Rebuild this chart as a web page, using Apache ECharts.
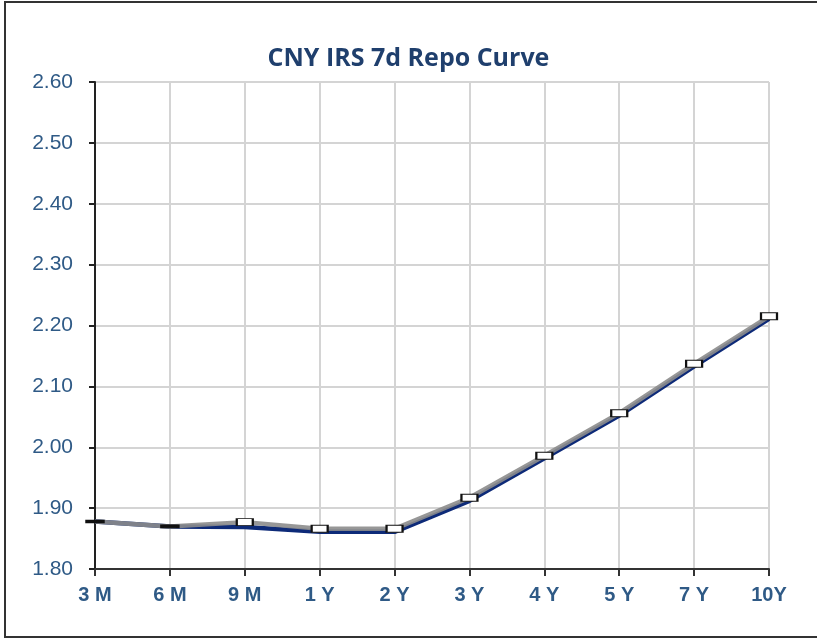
<!DOCTYPE html>
<html>
<head>
<meta charset="utf-8">
<script src="https://cdn.jsdelivr.net/npm/echarts@6/dist/echarts.min.js"></script>
<style>
  html, body { margin: 0; padding: 0; background: #fff; }
  #frame { position: absolute; left: 4px; top: 1px; width: 830px; height: 633px; border: 2px solid #333; border-right: none; }
  #main { position: absolute; left: 0; top: 0; width: 817px; height: 643px; }
</style>
</head>
<body>
<div id="frame"></div>
<div id="main"></div>
<script>
// 曲线数据
var tenors = ['3 M', '6 M', '9 M', '1 Y', '2 Y', '3 Y', '4 Y', '5 Y', '7 Y', '10Y'];
var curveNow = [1.878, 1.870, 1.869, 1.861, 1.861, 1.912, 1.982, 2.052, 2.133, 2.211];
var curvePrev = [1.878, 1.870, 1.877, 1.866, 1.866, 1.917, 1.986, 2.056, 2.137, 2.215];
var yTicks = [1.8, 2.6, 0.1];

var myChart = echarts.init(document.getElementById('main'));

var prevData = curvePrev.map(function (v, i) {
    if (i < 2) {
        return { value: v, symbolSize: [16, 3], itemStyle: { color: '#111', borderColor: '#111' } };
    }
    return v;
});

option = {
    animation: false,
    title: {
        text: 'CNY IRS 7d Repo Curve',
        left: 'center',
        top: 41,
        textStyle: {
            fontFamily: 'Open Sans',
            fontWeight: 'bold',
            fontSize: 25,
            color: '#1f3f6d'
        }
    },
    grid: {
        left: 95,
        right: 48,
        top: 82,
        bottom: 74
    },
    xAxis: {
        type: 'category',
        data: tenors,
        boundaryGap: false,
        axisLine: { lineStyle: { color: '#333', width: 2 } },
        axisTick: { show: true, length: 7, lineStyle: { color: '#333', width: 2 } },
        splitLine: { show: true, lineStyle: { color: '#d4d4d4', width: 2 } },
        axisLabel: {
            margin: 16,
            fontFamily: 'Liberation Sans',
            fontWeight: 'bold',
            fontSize: 20,
            color: '#2f5a86'
        }
    },
    yAxis: {
        type: 'value',
        min: yTicks[0],
        max: yTicks[1],
        interval: yTicks[2],
        axisLine: { show: true, lineStyle: { color: '#222', width: 2 } },
        axisTick: { show: true, length: 6, lineStyle: { color: '#222', width: 2 } },
        splitLine: { lineStyle: { color: '#d4d4d4', width: 2 } },
        axisLabel: {
            margin: 22,
            fontFamily: 'Liberation Sans',
            fontSize: 21,
            color: '#2f5a86',
            formatter: function (v) { return v.toFixed(2); }
        }
    },
    series: [
        {
            name: 'now',
            type: 'line',
            data: curveNow,
            symbol: 'none',
            z: 2,
            lineStyle: { color: '#0d2a78', width: 4.5 }
        },
        {
            name: 'prev',
            type: 'line',
            data: prevData,
            symbol: 'rect',
            symbolSize: [16, 7],
            z: 3,
            lineStyle: { color: '#8c8c8c', width: 4.5, opacity: 0.9 },
            itemStyle: { color: '#fff', borderColor: '#111', borderWidth: 1.5 }
        }
    ]
};
myChart.setOption(option);
</script>
</body>
</html>
